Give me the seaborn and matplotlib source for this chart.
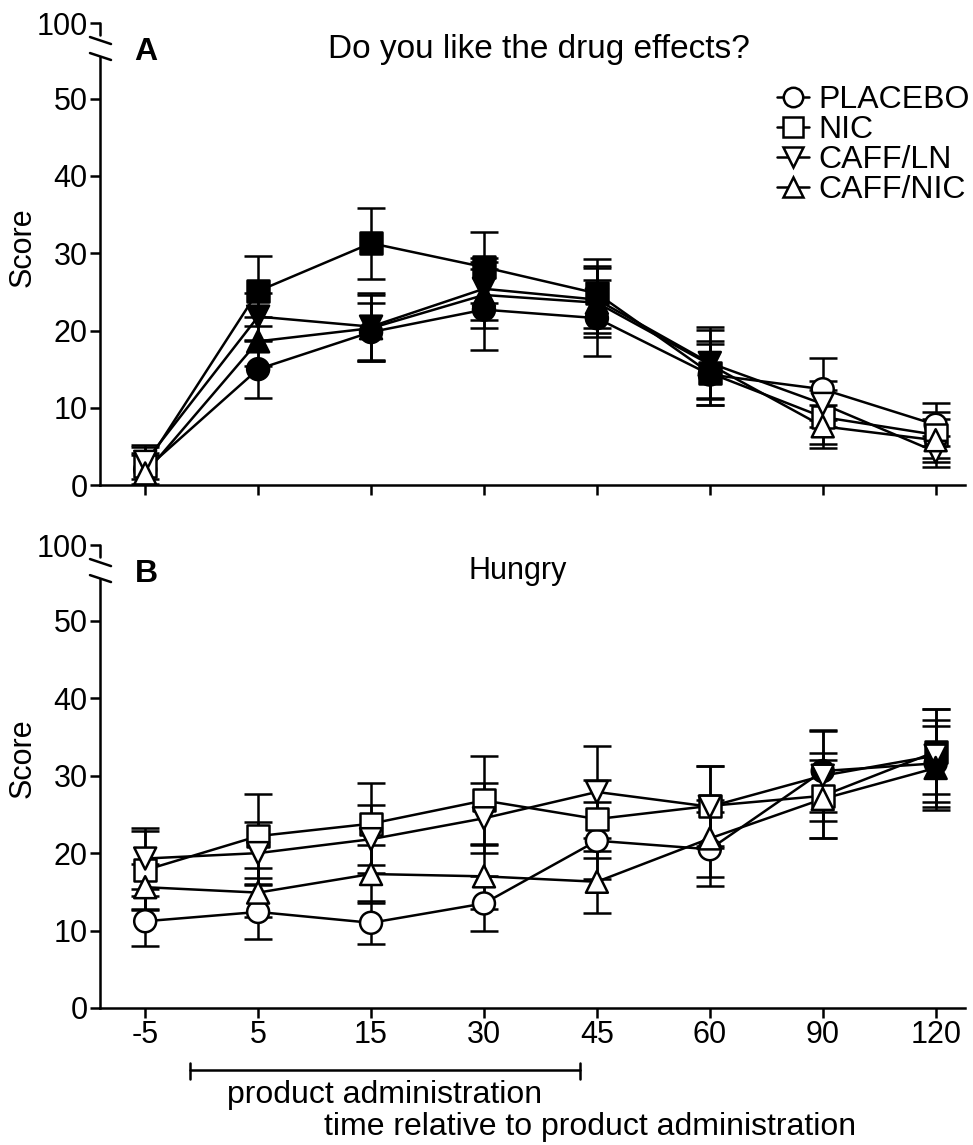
import numpy as np
import pandas as pd
import seaborn as sns
import matplotlib.pyplot as plt
from matplotlib.lines import Line2D
import matplotlib.transforms as mtransforms

# time points (categorical x axis)
times = ['-5', '5', '15', '30', '45', '60', '90', '120']
groups = ['PLACEBO', 'NIC', 'CAFF/LN', 'CAFF/NIC']

# Panel A: "Do you like the drug effects?"
placebo_a = [2.0, 15.0, 19.8, 22.7, 21.6, 14.3, 12.4, 7.8]
nic_a = [2.5, 25.1, 31.3, 28.2, 24.8, 14.5, 8.8, 6.5]
cafln_a = [3.0, 21.8, 20.5, 25.4, 24.0, 15.8, 10.5, 4.3]
cafnic_a = [1.5, 18.6, 20.3, 24.6, 23.6, 15.6, 7.6, 5.8]
placebo_a_err = [2.2, 3.7, 3.8, 5.2, 4.9, 4.0, 4.0, 2.8]
nic_a_err = [2.4, 4.5, 4.6, 4.6, 4.5, 4.2, 3.5, 3.0]
cafln_a_err = [2.2, 3.0, 4.3, 4.0, 4.3, 4.6, 3.0, 2.0]
cafnic_a_err = [2.4, 3.2, 4.3, 4.3, 4.5, 4.5, 2.8, 2.8]
# filled symbol = significant difference
placebo_a_sig = [0, 1, 1, 1, 1, 1, 0, 0]
nic_a_sig = [0, 1, 1, 1, 1, 1, 0, 0]
cafln_a_sig = [0, 1, 1, 1, 1, 1, 0, 0]
cafnic_a_sig = [0, 1, 1, 1, 1, 1, 0, 0]

# Panel B: "Hungry"
placebo_b = [11.2, 12.4, 11.0, 13.5, 21.6, 20.5, 30.6, 31.6]
nic_b = [17.8, 22.2, 23.8, 26.8, 24.4, 26.1, 27.4, 33.1]
cafln_b = [19.3, 20.0, 21.8, 24.5, 27.9, 26.0, 30.0, 32.6]
cafnic_b = [15.6, 14.9, 17.3, 17.0, 16.3, 21.9, 27.0, 31.0]
placebo_b_err = [3.2, 3.5, 2.8, 3.6, 5.0, 4.8, 5.3, 5.6]
nic_b_err = [5.0, 5.4, 5.3, 5.7, 5.0, 5.2, 5.5, 5.5]
cafln_b_err = [3.9, 4.0, 4.4, 4.5, 5.9, 5.3, 5.8, 6.0]
cafnic_b_err = [3.0, 3.2, 3.8, 4.2, 4.0, 5.0, 5.0, 5.4]
placebo_b_sig = [0, 0, 0, 0, 0, 0, 1, 1]
nic_b_sig = [0, 0, 0, 0, 0, 0, 0, 1]
cafln_b_sig = [0, 0, 0, 0, 0, 0, 0, 0]
cafnic_b_sig = [0, 0, 0, 0, 0, 0, 0, 1]

markers = {'PLACEBO': 'o', 'NIC': 's', 'CAFF/LN': 'v', 'CAFF/NIC': '^'}


def make_df(vals, errs, sigs):
    rows = []
    for g, v, e, s in zip(groups, vals, errs, sigs):
        for i, t in enumerate(times):
            rows.append({'time': t, 'pos': i, 'group': g, 'value': v[i],
                         'err': e[i], 'fill': 'filled' if s[i] else 'open'})
    return pd.DataFrame(rows)


df_a = make_df([placebo_a, nic_a, cafln_a, cafnic_a],
               [placebo_a_err, nic_a_err, cafln_a_err, cafnic_a_err],
               [placebo_a_sig, nic_a_sig, cafln_a_sig, cafnic_a_sig])
df_b = make_df([placebo_b, nic_b, cafln_b, cafnic_b],
               [placebo_b_err, nic_b_err, cafln_b_err, cafnic_b_err],
               [placebo_b_sig, nic_b_sig, cafln_b_sig, cafnic_b_sig])

sns.set_style('ticks', {'axes.edgecolor': 'black', 'text.color': 'black',
                        'xtick.color': 'black', 'ytick.color': 'black',
                        'axes.labelcolor': 'black'})
plt.rcParams['font.family'] = ['Liberation Sans', 'DejaVu Sans']
plt.rcParams['axes.linewidth'] = 1.8

YTOP = 59.8  # where "100" sits after the axis break
LW = 1.8


def draw_panel(ax, df):
    for g in groups:
        d = df[df['group'] == g]
        ax.errorbar(d['pos'], d['value'], yerr=d['err'], fmt='none',
                    ecolor='black', elinewidth=LW, capsize=10, capthick=LW,
                    zorder=2)
    sns.lineplot(data=df, x='pos', y='value', units='group', estimator=None,
                 color='black', linewidth=LW, sort=False, legend=False,
                 ax=ax, zorder=3)
    sns.scatterplot(data=df, x='pos', y='value', style='group',
                    markers=markers, hue='fill',
                    palette={'filled': 'black', 'open': 'white'},
                    edgecolor='black', linewidth=LW, s=250, legend=False,
                    ax=ax, zorder=4)

    ax.set_xlim(-0.4, 7.26)
    ax.set_ylim(0, YTOP)
    ax.set_xticks(range(len(times)))
    ax.set_yticks([0, 10, 20, 30, 40, 50, YTOP])
    ax.set_yticklabels(['0', '10', '20', '30', '40', '50', '100'])
    ax.tick_params(axis='both', direction='out', length=7, width=LW,
                   labelsize=22, pad=2, colors='black')
    sns.despine(ax=ax)
    ax.spines['left'].set_bounds(0, 55.4)

    # axis break: short top piece and two slashes
    trans = mtransforms.blended_transform_factory(ax.transAxes, ax.transData)
    ax.plot([0, 0], [58.3, YTOP], color='black', lw=LW, transform=trans,
            clip_on=False)
    for y0, y1 in [(0.9697, 0.9545), (0.935, 0.920)]:
        ax.plot([-0.0116, 0.0127], [y0, y1], color='black', lw=LW,
                transform=ax.transAxes, clip_on=False)
    ax.set_xlabel('')
    ax.set_ylabel('Score', fontsize=22, color='black')


fig = plt.figure(figsize=(9.73, 11.45), dpi=100)
ax_a = fig.add_axes([0.1028, 0.5764, 0.8890, 0.4035])
ax_b = fig.add_axes([0.1028, 0.1197, 0.8890, 0.4043])

draw_panel(ax_a, df_a)
draw_panel(ax_b, df_b)

ax_a.set_xticklabels([])
ax_b.set_xticklabels(times)
ax_a.yaxis.set_label_coords(-0.072, 0.515)
ax_b.yaxis.set_label_coords(-0.072, 0.54)

ax_a.text(0.04, 0.937, 'A', transform=ax_a.transAxes, fontsize=23,
          fontweight='bold', va='center', ha='left')
ax_a.text(0.507, 0.943, 'Do you like the drug effects?',
          transform=ax_a.transAxes, fontsize=24, va='center', ha='center')
ax_b.text(0.04, 0.937, 'B', transform=ax_b.transAxes, fontsize=23,
          fontweight='bold', va='center', ha='left')
ax_b.text(0.483, 0.943, 'Hungry', transform=ax_b.transAxes, fontsize=22,
          va='center', ha='center')

handles = [Line2D([0], [0], color='black', lw=LW, marker=markers[g],
                  markersize=14, markerfacecolor='white',
                  markeredgecolor='black', markeredgewidth=LW)
           for g in groups]
ax_a.legend(handles, groups, loc='upper right', bbox_to_anchor=(1.006, 0.866),
            frameon=False, fontsize=23, handlelength=1.0, handletextpad=0.3,
            labelspacing=0.0, borderpad=0, borderaxespad=0)

# product administration bracket below the x axis
tb = mtransforms.blended_transform_factory(ax_b.transData, ax_b.transAxes)
ax_b.plot([0.4, 3.85], [-0.134, -0.134], color='black', lw=LW,
          transform=tb, clip_on=False)
for xe in [0.4, 3.85]:
    ax_b.plot([xe, xe], [-0.119, -0.153], color='black', lw=LW,
              transform=tb, clip_on=False)
ax_b.text(2.12, -0.188, 'product administration', transform=tb,
          fontsize=23, ha='center', va='center')

ax_b.set_xlabel('time relative to product administration', fontsize=23)
ax_b.xaxis.set_label_coords(0.566, -0.224)

fig.savefig('out.png', dpi=100)
